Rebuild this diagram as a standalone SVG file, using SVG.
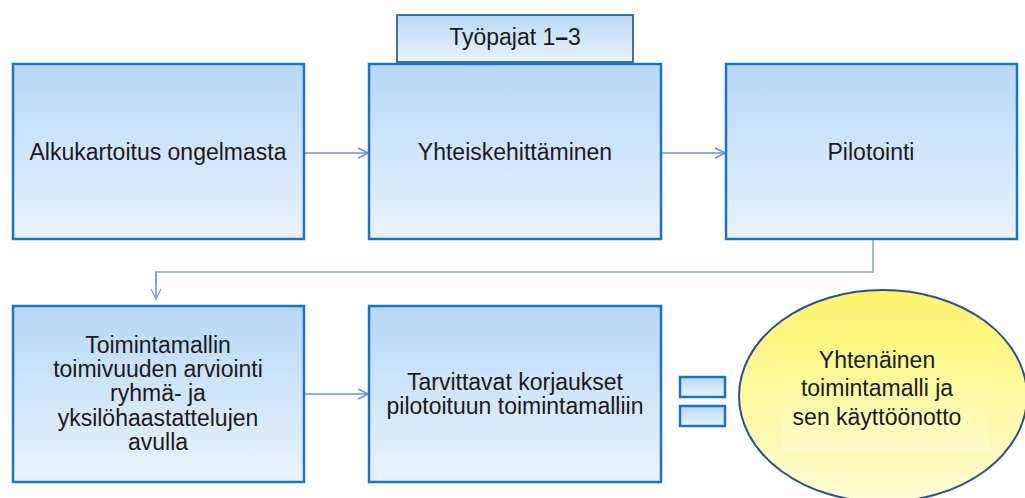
<svg xmlns="http://www.w3.org/2000/svg" width="1025" height="498" viewBox="0 0 1025 498">
  <defs>
    <linearGradient id="blueGrad" x1="0" y1="0" x2="0" y2="1">
      <stop offset="0" stop-color="#b8d8f6"/>
      <stop offset="1" stop-color="#e9f3fd"/>
    </linearGradient>
    <linearGradient id="yellowGrad" x1="0" y1="0" x2="0" y2="1">
      <stop offset="0" stop-color="#fbf56c"/>
      <stop offset="1" stop-color="#fefcd4"/>
    </linearGradient>
    <linearGradient id="yellowInner" x1="0" y1="0" x2="0" y2="1">
      <stop offset="0" stop-color="#fdf778"/>
      <stop offset="1" stop-color="#fefcd8"/>
    </linearGradient>
    <marker id="arrow" viewBox="0 0 12 12" refX="11" refY="6" markerWidth="12" markerHeight="12" markerUnits="userSpaceOnUse" orient="auto">
      <path d="M1,1 L11,6 L1,11" fill="none" stroke="#6f94d6" stroke-width="1.6"/>
    </marker>
    <marker id="arrowLight" viewBox="0 0 12 12" refX="11" refY="6" markerWidth="12" markerHeight="12" markerUnits="userSpaceOnUse" orient="auto">
      <path d="M1,1 L11,6 L1,11" fill="none" stroke="#7d9fdc" stroke-width="1.4"/>
    </marker>
  </defs>
  <style>
    .box { fill: url(#blueGrad); stroke: #1873c9; stroke-width: 2.5; }
    .tab { fill: url(#blueGrad); stroke: #1f4f8f; stroke-width: 1.6; }
    .eq { fill: url(#blueGrad); stroke: #1873c9; stroke-width: 2.5; }
    .lbl { font-family: "Liberation Sans", Arial, sans-serif; font-size: 23px; fill: #1a1a1a; text-anchor: middle; }
    .conn { fill: none; stroke: #6f94d6; stroke-width: 1.6; }
    .connLight { fill: none; stroke: #a4b9e2; stroke-width: 2; }
  </style>

  <g id="connectors">
    <line class="conn" x1="304" y1="153" x2="368" y2="153" marker-end="url(#arrow)"/>
    <line class="conn" x1="661" y1="153" x2="725" y2="153" marker-end="url(#arrow)"/>
    <polyline class="connLight" points="873,239 873,272 156,272 156,285"/>
    <line class="conn" x1="156" y1="272" x2="156" y2="299" stroke-width="1.2" marker-end="url(#arrowLight)"/>
    <line class="conn" x1="304" y1="394" x2="368" y2="394" marker-end="url(#arrow)"/>
  </g>

  <g id="node-alkukartoitus">
    <rect class="box" x="13" y="64" width="291" height="175"/>
    <text class="lbl" x="158" y="160">Alkukartoitus ongelmasta</text>
  </g>

  <g id="node-yhteiskehittaminen">
    <rect class="box" x="369" y="64" width="292" height="175"/>
    <text class="lbl" x="515" y="160">Yhteiskehittäminen</text>
  </g>

  <g id="node-tyopajat">
    <rect class="tab" x="397" y="15" width="236" height="47"/>
    <text class="lbl" x="515" y="45">Työpajat 1<tspan font-weight="bold">–</tspan>3</text>
  </g>

  <g id="node-pilotointi">
    <rect class="box" x="726" y="64" width="291" height="175"/>
    <text class="lbl" x="871" y="160">Pilotointi</text>
  </g>

  <g id="node-arviointi">
    <rect class="box" x="13" y="306" width="291" height="176"/>
    <text class="lbl" x="158" y="353">Toimintamallin</text>
    <text class="lbl" x="158" y="377">toimivuuden arviointi</text>
    <text class="lbl" x="158" y="401">ryhmä- ja</text>
    <text class="lbl" x="158" y="426">yksilöhaastattelujen</text>
    <text class="lbl" x="158" y="450">avulla</text>
  </g>

  <g id="node-korjaukset">
    <rect class="box" x="369" y="306" width="292" height="176"/>
    <text class="lbl" x="515" y="390">Tarvittavat korjaukset</text>
    <text class="lbl" x="515" y="414">pilotoituun toimintamalliin</text>
  </g>

  <g id="node-equals">
    <rect class="eq" x="680" y="377" width="45" height="20"/>
    <rect class="eq" x="680" y="406" width="45" height="20"/>
  </g>

  <g id="node-yhtenainen">
    <ellipse cx="883" cy="396" rx="144" ry="106" fill="url(#yellowGrad)" stroke="#2f4f8c" stroke-width="2"/>
    <rect x="782" y="335" width="208" height="117" fill="url(#yellowInner)" opacity="0.6"/>
    <text class="lbl" x="877" y="368">Yhtenäinen</text>
    <text class="lbl" x="877" y="396">toimintamalli ja</text>
    <text class="lbl" x="877" y="425">sen käyttöönotto</text>
  </g>
</svg>
